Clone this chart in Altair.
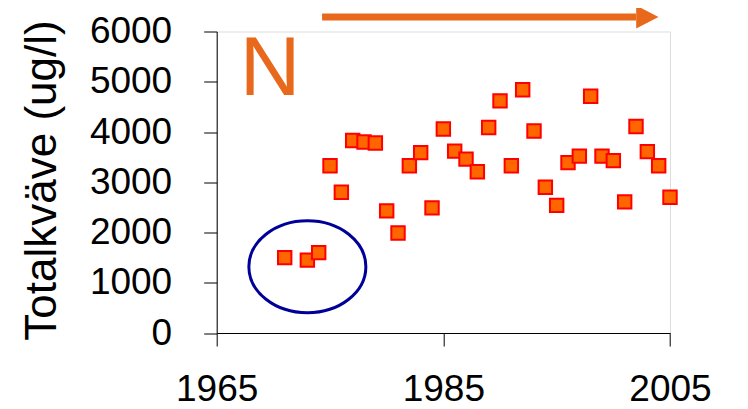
import altair as alt
import pandas as pd

# Measured data
years = [1971, 1973, 1974, 1975, 1976, 1977, 1978, 1979, 1980, 1981, 1982,
         1983, 1984, 1985, 1986, 1987, 1988, 1989, 1990, 1991, 1992, 1993,
         1994, 1995, 1996, 1997, 1998, 1999, 2000, 2001, 2002, 2003, 2004, 2005]
values = [1500, 1450, 1600, 3330, 2800, 3830, 3800, 3780, 2430, 1990, 3330,
          3590, 2490, 4060, 3620, 3460, 3210, 4090, 4620, 3330, 4840, 4020,
          2900, 2540, 3390, 3520, 4710, 3520, 3430, 2610, 4110, 3610, 3330, 2700]

x_ticks = [1965, 1985, 2005]
y_ticks = [0, 1000, 2000, 3000, 4000, 5000, 6000]

# Annotations (data coordinates)
label_N = {"year": 1969.7, "value": 4736, "text": "N"}
arrow_shaft = {"year": 1974.3, "year2": 2002.0, "value": 6290}
arrow_head = {"year": 2003.0, "value": 6290}
ellipse = {"year": 1973.0, "value": 1319}

ORANGE = "#E8691B"
FONT = "Liberation Sans"

df = pd.DataFrame({"year": years, "value": values})

xscale = alt.Scale(domain=[1965, 2005], nice=False, zero=False)
yscale = alt.Scale(domain=[0, 6000], nice=False)

x_enc = alt.X("year:Q", scale=xscale, axis=alt.Axis(
    values=x_ticks, format="d", title=None, grid=False,
    labelFont=FONT, labelFontSize=37, labelColor="black",
    tickSize=13, tickColor="black", domainColor="black",
    labelPadding=25, labelFlush=False, labelOverlap=False))
y_enc = alt.Y("value:Q", scale=yscale, axis=alt.Axis(
    values=y_ticks, format="d", title="Totalkväve (ug/l)", grid=False,
    labelFont=FONT, labelFontSize=37, labelColor="black",
    tickSize=13, tickColor="black", domainColor="black",
    labelPadding=32, labelFlush=False, labelOverlap=False,
    titleFont=FONT, titleFontSize=44, titleFontWeight="normal",
    titleColor="black", titleAngle=270, titleAlign="center",
    titleBaseline="alphabetic", titleX=-161.7, titleY=148.5))

points = alt.Chart(df).mark_square(
    size=180, fill="#FF6600", stroke="#FF0000", strokeWidth=2, opacity=1
).encode(x=x_enc, y=y_enc)

ell = alt.Chart(pd.DataFrame([ellipse])).mark_point(
    shape="M -1 0 A 1 0.786 0 1 1 1 0 A 1 0.786 0 1 1 -1 0 Z",
    size=13689, filled=False, stroke="#000099", strokeWidth=3, opacity=1
).encode(x="year:Q", y="value:Q")

ntext = alt.Chart(pd.DataFrame([label_N])).mark_text(
    font=FONT, fontSize=84, color=ORANGE, align="center", baseline="alphabetic"
).encode(x="year:Q", y="value:Q", text="text:N")

shaft = alt.Chart(pd.DataFrame([arrow_shaft])).mark_rule(
    color=ORANGE, strokeWidth=7, strokeCap="butt"
).encode(x="year:Q", x2="year2:Q", y="value:Q")

head = alt.Chart(pd.DataFrame([arrow_head])).mark_point(
    shape="M -0.97 -1 L 0.97 0 L -0.97 1 Z", size=529,
    filled=True, fill=ORANGE, opacity=1
).encode(x="year:Q", y="value:Q")

chart = alt.layer(points, ell, ntext, shaft, head).properties(
    width=453.3, height=301.5,
    autosize=alt.AutoSizeParams(type="none"),
    padding={"left": 208.7, "top": 23.5, "right": 70, "bottom": 76},
).configure_view(stroke=None).configure(background="white")

chart.save("out.html", embed_options={"renderer": "svg", "actions": False})
